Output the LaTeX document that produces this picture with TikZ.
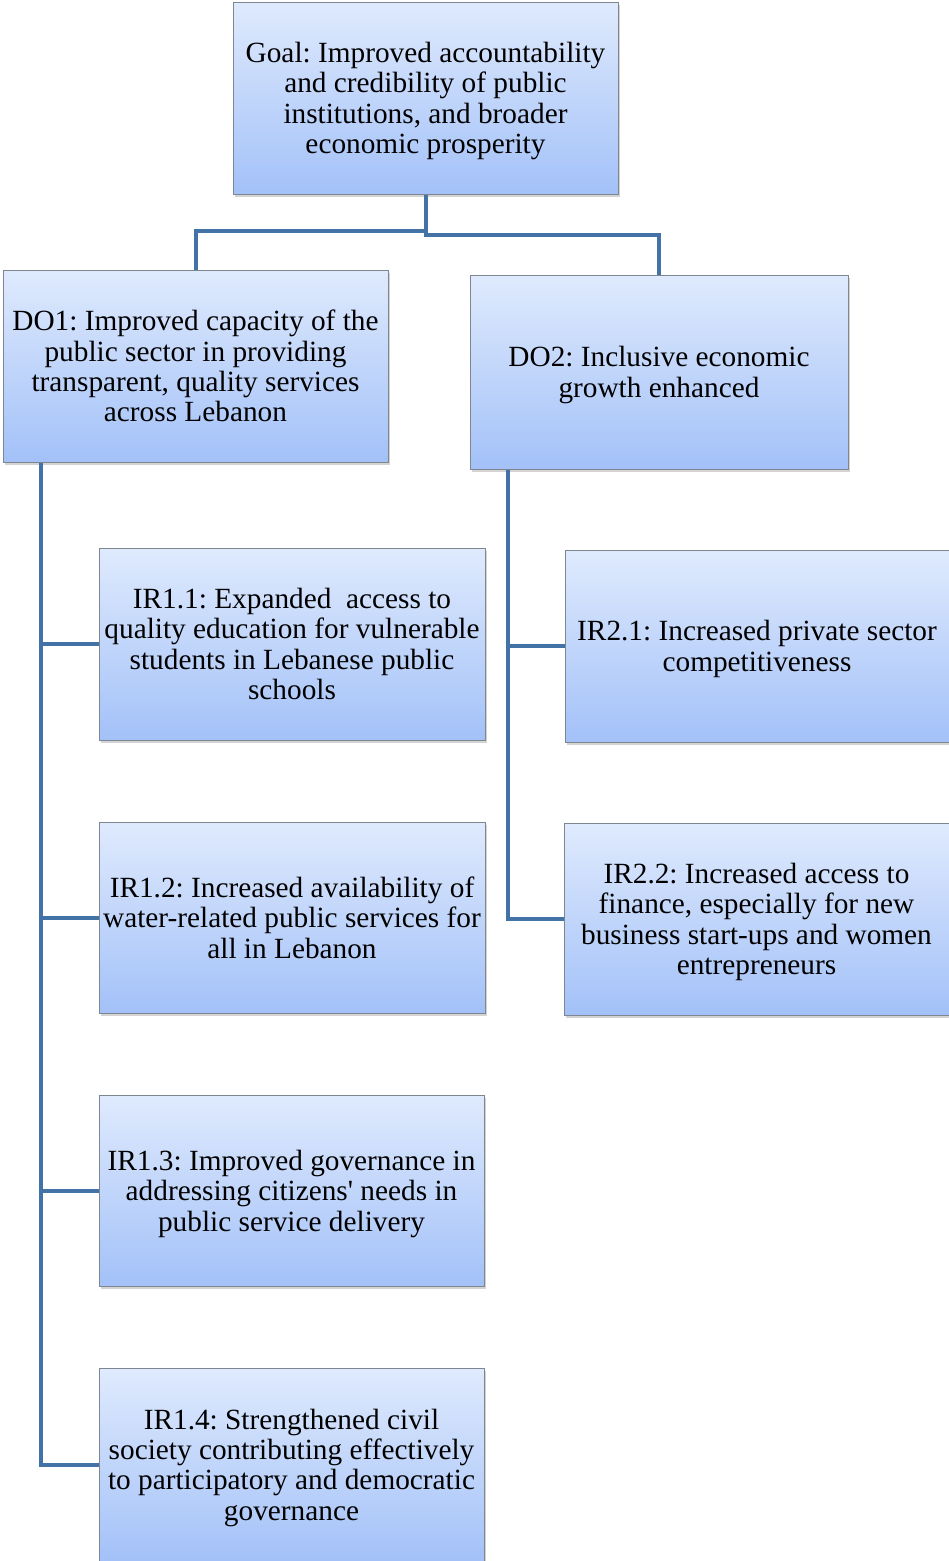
\documentclass[tikz,border=0pt]{standalone}
\usepackage{fontspec}
\setmainfont{Liberation Serif}
\usetikzlibrary{shadows}
\definecolor{boxtop}{HTML}{DFEAFD}
\definecolor{boxbot}{HTML}{A3C1F8}
\definecolor{boxline}{HTML}{7E8690}
\definecolor{connc}{HTML}{4272A6}
\tikzset{
  rbox/.style={draw=boxline, line width=1pt, top color=boxtop, bottom color=boxbot,
    minimum width=385pt, minimum height=192pt, inner sep=0pt, align=center,
    font=\fontsize{29.3}{30.4}\selectfont\frenchspacing,
    text depth=-3pt,
    drop shadow={shadow xshift=2pt, shadow yshift=-3pt, opacity=0.35}},
  conn/.style={draw=connc, line width=4pt}
}
\begin{document}
\begin{tikzpicture}[x=1pt,y=-1pt]
\useasboundingbox (0,0) rectangle (949,1561);
\node[rbox] (goal) at (425.5,98) {Goal: Improved accountability\\and credibility of public\\institutions, and broader\\economic prosperity};
\node[rbox] (do1) at (195.5,366) {DO1: Improved capacity of the\\public sector in providing\\transparent, quality services\\across Lebanon};
\node[rbox, minimum width=378pt, minimum height=194pt] (do2) at (659,372) {DO2: Inclusive economic\\growth enhanced};
\node[rbox, minimum width=386pt] (ir11) at (292,644) {IR1.1: Expanded\ \ access to\\quality education for vulnerable\\students in Lebanese public\\schools};
\node[rbox, minimum width=386pt, minimum height=191pt] (ir12) at (292,917.5) {IR1.2: Increased availability of\\water-related public services for\\all in Lebanon};
\node[rbox, minimum height=191pt] (ir13) at (291.5,1190.5) {IR1.3: Improved governance in\\addressing citizens\textquotesingle\ needs in\\public service delivery};
\node[rbox, minimum height=193pt] (ir14) at (291.5,1464.5) {IR1.4: Strengthened civil\\society contributing effectively\\to participatory and democratic\\governance};
\node[rbox, minimum width=384pt] (ir21) at (757,646) {IR2.1: Increased private sector\\competitiveness};
\node[rbox] (ir22) at (756.5,919) {IR2.2: Increased access to\\finance, especially for new\\business start-ups and women\\entrepreneurs};
% connectors from goal
\draw[conn] (goal.south) -- ++(0,40) -| (do2.north);
\draw[conn] (goal.south) ++(0,36) -| (do1.north);
% DO1 spine
\coordinate (sp1) at ([xshift=38pt]do1.south west);
\draw[conn] (sp1) |- (ir14.west);
\draw[conn] (ir11.west) -- (ir11.west -| sp1);
\draw[conn] (ir12.west) -- (ir12.west -| sp1);
\draw[conn] (ir13.west) -- (ir13.west -| sp1);
% DO2 spine
\coordinate (sp2) at ([xshift=38pt]do2.south west);
\draw[conn] (sp2) |- (ir22.west);
\draw[conn] (ir21.west) -- (ir21.west -| sp2);
\end{tikzpicture}
\end{document}
